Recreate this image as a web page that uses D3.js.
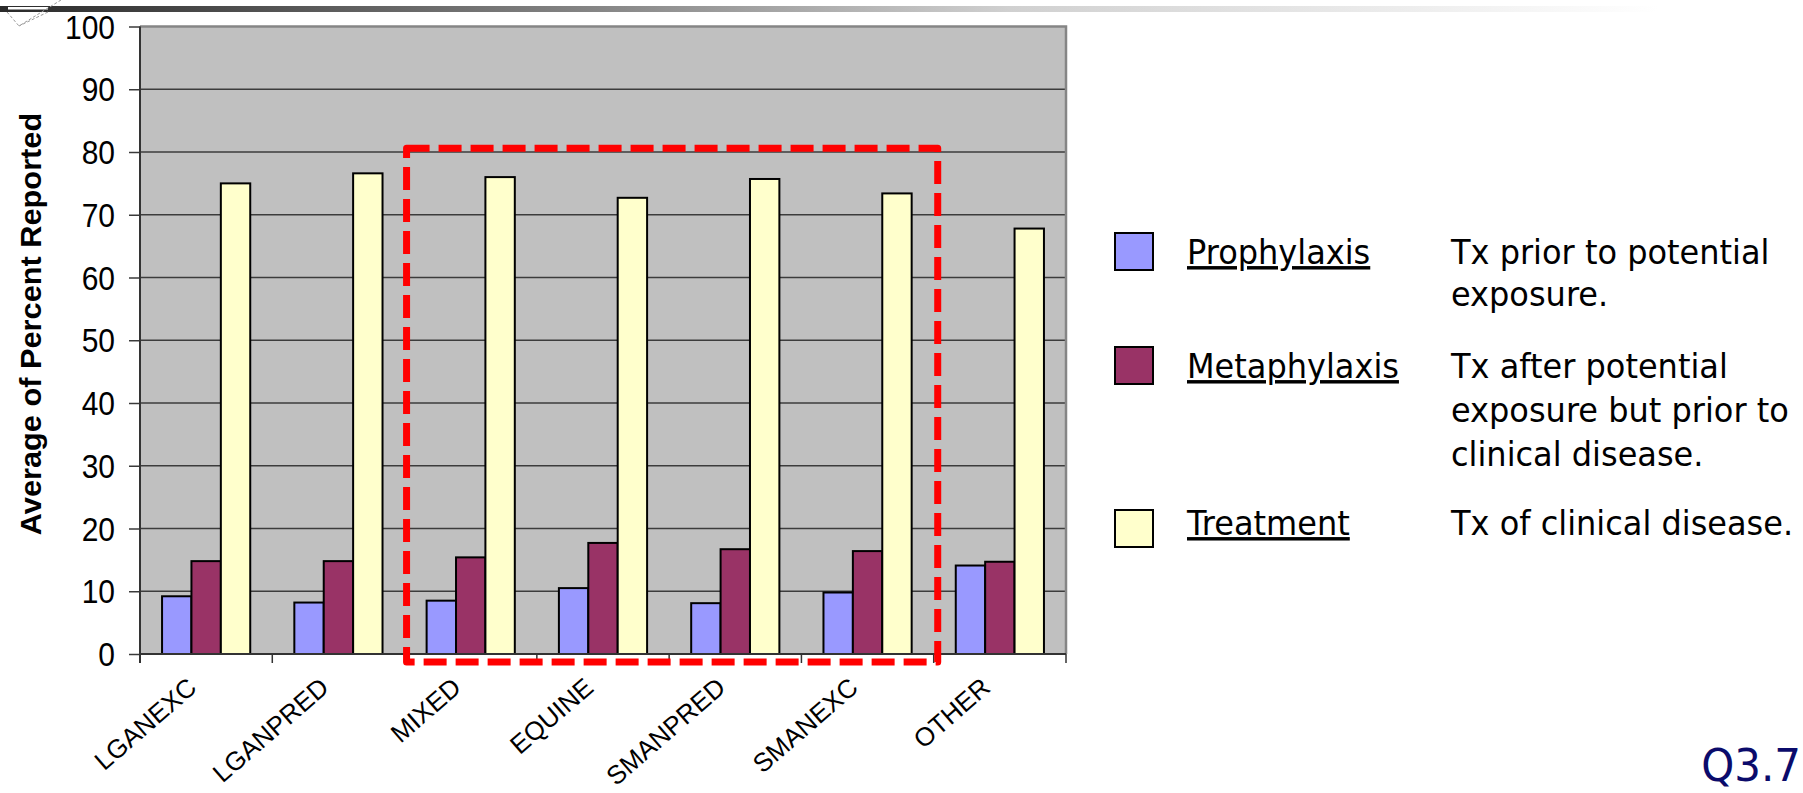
<!DOCTYPE html>
<html>
<head>
<meta charset="utf-8">
<script src="https://cdn.jsdelivr.net/npm/d3@7"></script>
<style>
  html, body { margin: 0; padding: 0; background: #ffffff; }
  svg { display: block; }
</style>
</head>
<body>
<svg id="chart" width="1803" height="793"></svg>
<script>
// Antimicrobial use by practice type
const categories = ["LGANEXC", "LGANPRED", "MIXED", "EQUINE", "SMANPRED", "SMANEXC", "OTHER"];
const prophylaxis = [9.2, 8.2, 8.5, 10.5, 8.1, 9.8, 14.1];
const metaphylaxis = [14.8, 14.8, 15.4, 17.7, 16.7, 16.4, 14.7];
const treatment = [75.0, 76.6, 76.0, 72.7, 75.7, 73.4, 67.8];
const yTicks = [0, 10, 20, 30, 40, 50, 60, 70, 80, 90, 100];

const seriesNames = ["Prophylaxis", "Metaphylaxis", "Treatment"];
const seriesColors = ["#9999FF", "#993366", "#FFFFCC"];
const seriesNotes = [
  ["Tx prior to potential", "exposure."],
  ["Tx after potential", "exposure but prior to", "clinical disease."],
  ["Tx of clinical disease."]
];
const highlighted = ["MIXED", "SMANEXC"];   // first and last group inside the dashed box
const slideTag = "Q3.7";

const series = [prophylaxis, metaphylaxis, treatment];

const svg = d3.select("#chart");
const plot = { left: 140, right: 1066, top: 26.5, bottom: 654 };

const x = d3.scaleBand().domain(categories).range([plot.left, plot.right]).paddingInner(0).paddingOuter(0);
const y = d3.scaleLinear().domain([0, 100]).range([plot.bottom, plot.top]);
const barW = x.bandwidth() / 4.5;
const inner = d3.scaleBand().domain(seriesNames).range([0.75 * barW, 3.75 * barW]);

// header strip
const defs = svg.append("defs");
const grad = defs.append("linearGradient").attr("id", "strip").attr("x1", "0").attr("x2", "1").attr("y1", "0").attr("y2", "0");
[[0, "#2a2a2a"], [0.33, "#858585"], [0.56, "#d0d0d0"], [0.92, "#ffffff"], [1, "#ffffff"]].forEach(([o, c]) =>
  grad.append("stop").attr("offset", o).attr("stop-color", c));
svg.append("rect").attr("x", 0).attr("y", 6).attr("width", 1803).attr("height", 6).attr("fill", "url(#strip)");
svg.append("rect").attr("x", 8).attr("y", 7).attr("width", 40).attr("height", 2.5).attr("fill", "#ffffff");
svg.append("path").attr("d", "M7,12 L19,26 L61,0 M48,12 L19,26")
  .attr("fill", "none").attr("stroke", "#9a9a9a").attr("stroke-width", 1).attr("stroke-dasharray", "3 2");

// plot area
svg.append("rect").attr("x", plot.left).attr("y", plot.top)
  .attr("width", plot.right - plot.left).attr("height", plot.bottom - plot.top).attr("fill", "#C0C0C0");

// gridlines
svg.append("g").selectAll("line").data(yTicks.filter(t => t > 0 && t < 100)).join("line")
  .attr("x1", plot.left).attr("x2", plot.right)
  .attr("y1", d => y(d)).attr("y2", d => y(d))
  .attr("stroke", "#3c3c3c").attr("stroke-width", 1.5);

// top and right frame
svg.append("path")
  .attr("d", `M${plot.left},${y(100)} H${plot.right} V${plot.bottom}`)
  .attr("fill", "none").attr("stroke", "#858585").attr("stroke-width", 2.5);

// bars
const groups = svg.append("g").selectAll("g").data(categories).join("g")
  .attr("transform", d => `translate(${x(d)},0)`);
groups.selectAll("rect").data((c, i) => seriesNames.map((s, k) => ({ s, k, v: series[k][i] }))).join("rect")
  .attr("x", d => inner(d.s))
  .attr("width", inner.bandwidth())
  .attr("y", d => y(d.v))
  .attr("height", d => y(0) - y(d.v))
  .attr("fill", d => seriesColors[d.k])
  .attr("stroke", "#000000").attr("stroke-width", 2);

// y axis
const yAxis = svg.append("g").attr("transform", `translate(${plot.left},0)`)
  .call(d3.axisLeft(y).tickValues(yTicks).tickSize(11).tickFormat(d3.format("d")));
yAxis.select(".domain").remove();
yAxis.selectAll(".tick line").attr("stroke", "#3a3a3a").attr("stroke-width", 1.5);
yAxis.selectAll(".tick text")
  .attr("x", null).attr("dy", null)
  .attr("dominant-baseline", "central")
  .attr("transform", "translate(-25,0) scale(1,1.1)")
  .attr("font-family", "Liberation Sans, Arial, sans-serif")
  .attr("font-size", 30).attr("fill", "#000").attr("text-anchor", "end");

// axis lines
const boundaries = categories.map(c => x(c)).concat([x.range()[1]]);
svg.append("line").attr("x1", plot.left).attr("x2", plot.left).attr("y1", y(100)).attr("y2", y(0) + 9)
  .attr("stroke", "#333").attr("stroke-width", 2);
svg.append("line").attr("x1", plot.left).attr("x2", plot.right).attr("y1", y(0)).attr("y2", y(0))
  .attr("stroke", "#333").attr("stroke-width", 2);
svg.append("g").selectAll("line").data(boundaries).join("line")
  .attr("x1", d => d).attr("x2", d => d).attr("y1", y(0)).attr("y2", y(0) + 9)
  .attr("stroke", "#333").attr("stroke-width", 1.5);

// category labels
svg.append("g").selectAll("text").data(categories).join("text")
  .attr("transform", d => `translate(${x(d) + x.bandwidth() / 2 - 8},${y(0) + 36}) rotate(-41)`)
  .attr("text-anchor", "end")
  .attr("font-family", "Liberation Sans, Arial, sans-serif")
  .attr("font-size", 26).attr("fill", "#000")
  .text(d => d);

// y axis title
svg.append("text")
  .attr("transform", `translate(41,324) rotate(-90) scale(1.06,1)`)
  .attr("text-anchor", "middle")
  .attr("font-family", "Liberation Sans, Arial, sans-serif")
  .attr("font-weight", "bold").attr("font-size", 29).attr("fill", "#000")
  .text("Average of Percent Reported");

// dashed highlight box
const boxL = x(highlighted[0]) + 2;
const boxR = x(highlighted[1]) + x.bandwidth() + 4;
const boxT = y(80.6);
const boxB = y(0) + 8;
svg.append("path")
  .attr("d", `M${boxL},${boxT} H${boxR} V${boxB} H${boxL} Z`)
  .attr("fill", "none").attr("stroke", "#FF0000").attr("stroke-width", 7)
  .attr("stroke-dasharray", "23 9").attr("stroke-linejoin", "round");

// legend
const legendTop = [233, 347, 510];
const noteBase = [[264, 306], [378, 422, 466], [535]];
const legendFont = "DejaVu Sans, Verdana, sans-serif";
const lg = svg.append("g");
seriesNames.forEach((name, k) => {
  lg.append("rect").attr("x", 1115).attr("y", legendTop[k]).attr("width", 38).attr("height", 37)
    .attr("fill", seriesColors[k]).attr("stroke", "#000").attr("stroke-width", 2);
  lg.append("text")
    .attr("transform", `translate(1187,${noteBase[k][0]}) scale(1,1.08)`)
    .attr("font-family", legendFont).attr("font-size", 32).attr("fill", "#000")
    .attr("text-decoration", "underline")
    .text(name);
  seriesNotes[k].forEach((line, j) => {
    lg.append("text")
      .attr("transform", `translate(1451,${noteBase[k][j]}) scale(1,1.08)`)
      .attr("font-family", legendFont).attr("font-size", 32).attr("fill", "#000")
      .text(line);
  });
});

// slide number
svg.append("text")
  .attr("transform", "translate(1801,781) scale(1,1.07)")
  .attr("text-anchor", "end")
  .attr("font-family", legendFont).attr("font-size", 42).attr("fill", "#0b0b6b")
  .text(slideTag);
</script>
</body>
</html>
